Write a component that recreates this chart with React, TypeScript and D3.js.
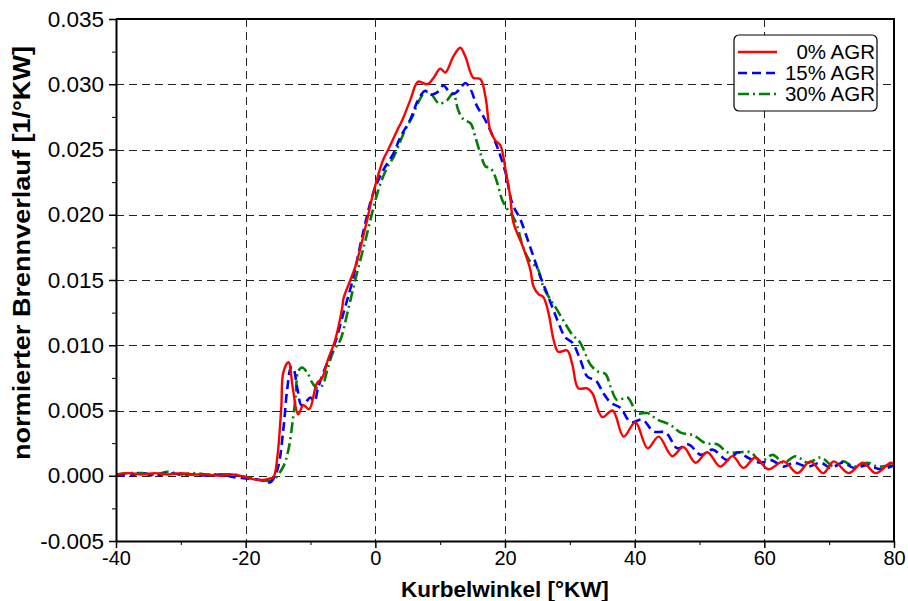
import React, { useEffect, useRef } from "react";
import * as d3 from "d3";

// crank angle [°KW] / normalised heat release [1/°KW]
const agr0: [number, number][] = [
  [-40, 0.0001], [-38, 0.0002], [-36, 0.0001], [-34, 0.0002], [-32, 0.0001], [-30, 0.0002],
  [-28, 0.0001], [-26, 0.0001], [-24, 0.0], [-22, 0.0001], [-20, -0.0001], [-18.5, -0.0003],
  [-17, -0.0003], [-16.2, -0.0002], [-15.7, -0.0001], [-15.1, 0.0015], [-14.5, 0.0053],
  [-14.2, 0.0079], [-13.4, 0.0087], [-12.7, 0.0066], [-11.9, 0.0047], [-11.1, 0.0054],
  [-10.2, 0.0051], [-9.0, 0.0071], [-8.2, 0.0075], [-7.3, 0.0089], [-6.2, 0.0104],
  [-5.1, 0.0129], [-4.9, 0.0136], [-3.1, 0.016], [-1.5, 0.0191], [-0.3, 0.0217],
  [1.2, 0.0242], [2.0, 0.025], [3.4, 0.0265], [4.2, 0.0273], [5.4, 0.0288], [6.6, 0.0302],
  [8.0, 0.03], [9.0, 0.0305], [10.0, 0.0312], [10.8, 0.0309], [12.0, 0.0321], [13.1, 0.0328],
  [13.9, 0.0321], [15.1, 0.0305], [16.2, 0.0304], [17.0, 0.029], [17.7, 0.0265],
  [18.5, 0.0257], [19.3, 0.0253], [20.1, 0.0234], [20.8, 0.0214], [21.3, 0.0194],
  [22.8, 0.0175], [23.9, 0.0158], [24.4, 0.0145], [25.2, 0.0139], [25.9, 0.0137],
  [26.7, 0.0125], [27.5, 0.0104], [28.2, 0.0095], [29.6, 0.0096], [30.4, 0.0085],
  [31.3, 0.0067], [32.7, 0.0067], [33.5, 0.0063], [35.0, 0.0045], [36.6, 0.005],
  [38.3, 0.003], [40.1, 0.0041], [42.0, 0.0021], [43.7, 0.003], [45.8, 0.0015],
  [47.5, 0.0022], [49.4, 0.001], [51.2, 0.0018], [53.2, 0.0007], [55.1, 0.0015],
  [56.8, 0.0006], [58.6, 0.0014], [60.6, 0.0005], [63.0, 0.0011], [65.1, 0.0002],
  [67.1, 0.0011], [69.1, 0.0002], [70.7, 0.0011], [73.0, 0.0002], [75.2, 0.001],
  [77.2, 0.0002], [79.5, 0.001], [80, 0.0008],
];

const agr15: [number, number][] = [
  [-40, 0.0001], [-38, 0.0], [-36, 0.0002], [-34, 0.0], [-32, 0.0002], [-30, 0.0001],
  [-28, 0.0001], [-26, 0.0], [-24, 0.0001], [-22, -0.0001], [-20, -0.0002], [-18, -0.0003],
  [-17, -0.0004], [-16.2, -0.0005], [-15.1, 0.0005], [-14.2, 0.0035], [-13.6, 0.0066],
  [-13.0, 0.0083], [-12.7, 0.0083], [-12.0, 0.0066], [-11.4, 0.0054], [-10.8, 0.0056],
  [-10.0, 0.006], [-9.4, 0.0057], [-8.8, 0.0068], [-7.4, 0.0087], [-6.2, 0.0102],
  [-4.9, 0.0125], [-3.5, 0.015], [-1.9, 0.0186], [-0.3, 0.0217], [1.2, 0.0234],
  [2.8, 0.0247], [3.9, 0.026], [5.4, 0.0273], [6.6, 0.0288], [7.7, 0.0295], [8.5, 0.0292],
  [9.6, 0.0294], [10.5, 0.0299], [11.6, 0.0293], [12.3, 0.0293], [13.1, 0.0297],
  [13.9, 0.0301], [14.7, 0.0296], [15.7, 0.0283], [16.7, 0.0275], [17.7, 0.0265],
  [18.8, 0.0252], [20.1, 0.0232], [21.1, 0.0209], [22.4, 0.0196], [23.9, 0.0175],
  [25.5, 0.0152], [26.7, 0.0137], [28.1, 0.0119], [29.3, 0.0106], [30.4, 0.0102],
  [31.6, 0.0089], [32.7, 0.0076], [34.0, 0.0073], [35.2, 0.0063], [36.3, 0.0056],
  [37.8, 0.0052], [39.4, 0.0041], [41.2, 0.0043], [42.9, 0.0034], [44.8, 0.0033],
  [46.6, 0.0021], [48.3, 0.0024], [50.2, 0.0016], [52.0, 0.002], [54.3, 0.0012],
  [56.0, 0.0018], [57.4, 0.0014], [59.4, 0.001], [61.0, 0.0012], [63.0, 0.0007],
  [64.5, 0.001], [66.7, 0.0007], [68.7, 0.001], [70.2, 0.0006], [72.1, 0.001],
  [73.8, 0.0006], [75.9, 0.0008], [77.9, 0.0005], [80, 0.0008],
];

const agr30: [number, number][] = [
  [-40, 0.0001], [-38, 0.0002], [-36, 0.0002], [-34, 0.0001], [-32, 0.0003], [-30, 0.0001],
  [-28, 0.0002], [-26, 0.0001], [-24, 0.0001], [-22, 0.0001], [-20, -0.0001], [-18, -0.0003],
  [-16.5, -0.0004], [-15.7, -0.0003], [-14.2, 0.0007], [-13.4, 0.002], [-12.8, 0.004],
  [-12.3, 0.006], [-11.9, 0.008], [-11.3, 0.0083], [-10.5, 0.0079], [-9.7, 0.0071],
  [-9.0, 0.0067], [-8.2, 0.0069], [-7.4, 0.0081], [-6.5, 0.0095], [-5.4, 0.0104],
  [-4.3, 0.0125], [-3.1, 0.015], [-1.5, 0.0181], [0.0, 0.0211], [0.8, 0.0224],
  [1.9, 0.0237], [2.8, 0.0244], [3.5, 0.0252], [4.6, 0.0265], [5.7, 0.0275], [6.6, 0.0286],
  [7.7, 0.0294], [8.5, 0.0293], [9.6, 0.0286], [10.0, 0.0285], [11.1, 0.0288],
  [12.0, 0.0293], [12.8, 0.028], [13.6, 0.0273], [14.7, 0.027], [15.4, 0.026],
  [16.2, 0.0247], [17.0, 0.0237], [17.7, 0.0236], [18.5, 0.0229], [19.6, 0.0211],
  [20.4, 0.0204], [21.3, 0.0198], [21.9, 0.0191], [22.8, 0.0175], [23.9, 0.0164],
  [25.0, 0.0159], [25.9, 0.0145], [27.0, 0.0135], [27.8, 0.0129], [29.0, 0.0119],
  [30.4, 0.0108], [31.6, 0.0102], [33.2, 0.0085], [34.3, 0.008], [35.5, 0.0078],
  [36.3, 0.0068], [37.3, 0.0058], [38.9, 0.006], [40.4, 0.0048], [42.0, 0.0048],
  [43.5, 0.0043], [45.5, 0.0039], [47.1, 0.0033], [49.1, 0.0031], [50.9, 0.0025],
  [52.8, 0.0024], [54.3, 0.0018], [56.0, 0.0018], [57.9, 0.0018], [59.4, 0.0011],
  [61.3, 0.0016], [63.0, 0.001], [64.8, 0.0015], [66.7, 0.001], [68.7, 0.0014],
  [70.7, 0.0007], [72.2, 0.0011], [73.8, 0.0007], [75.9, 0.001], [77.6, 0.0007],
  [80, 0.0009],
];

const seriesNames = ["0% AGR", "15% AGR", "30% AGR"];
const xTicks = [-40, -20, 0, 20, 40, 60, 80];
const yTicks = [-0.005, 0, 0.005, 0.01, 0.015, 0.02, 0.025, 0.03, 0.035];

function App() {
  const ref = useRef<SVGSVGElement | null>(null);

  useEffect(() => {
    const width = 908;
    const height = 601;
    const margin = { top: 19, right: 14, bottom: 60, left: 116 };
    const svg = d3.select(ref.current);
    svg.selectAll("*").remove();

    const x = d3.scaleLinear().domain([-40, 80]).range([margin.left, width - margin.right]);
    const y = d3.scaleLinear().domain([-0.005, 0.035]).range([height - margin.bottom, margin.top]);

    svg.append("rect").attr("width", width).attr("height", height).attr("fill", "white");

    // grid lines
    const grid = svg.append("g").attr("stroke", "#222").attr("stroke-width", 1).attr("stroke-dasharray", "8,5");
    grid.selectAll("line.v")
      .data(xTicks.slice(1, -1))
      .join("line")
      .attr("class", "v")
      .attr("x1", (d) => Math.round(x(d)) + 0.5)
      .attr("x2", (d) => Math.round(x(d)) + 0.5)
      .attr("y1", y(0.035))
      .attr("y2", y(-0.005));
    grid.selectAll("line.h")
      .data(yTicks.slice(1, -1))
      .join("line")
      .attr("class", "h")
      .attr("x1", x(-40))
      .attr("x2", x(80))
      .attr("y1", (d) => Math.round(y(d)) + 0.5)
      .attr("y2", (d) => Math.round(y(d)) + 0.5);

    // curves
    const line = d3.line<[number, number]>()
      .x((d) => x(d[0]))
      .y((d) => y(d[1]))
      .curve(d3.curveCatmullRom.alpha(0.5));

    const styles = [
      { data: agr0, color: "#ff0000", dash: null, w: 2.4 },
      { data: agr15, color: "#0000ff", dash: "9,5", w: 2.6 },
      { data: agr30, color: "#008000", dash: "11,4,2,4", w: 2.6 },
    ];

    svg.append("defs").append("clipPath").attr("id", "plotclip")
      .append("rect")
      .attr("x", x(-40)).attr("y", y(0.035))
      .attr("width", x(80) - x(-40)).attr("height", y(-0.005) - y(0.035));

    const lines = svg.append("g").attr("clip-path", "url(#plotclip)");
    [...styles].reverse().forEach((s) => {
      lines.append("path")
        .datum(s.data)
        .attr("fill", "none")
        .attr("stroke", s.color)
        .attr("stroke-width", s.w)
        .attr("stroke-dasharray", s.dash)
        .attr("d", line);
    });

    // axes
    const fontFamily = "Arial, 'Liberation Sans', sans-serif";
    const xAxis = svg.append("g")
      .attr("transform", `translate(0,${y(-0.005)})`)
      .call(d3.axisBottom(x).tickValues(xTicks).tickSize(7).tickSizeOuter(0).tickPadding(3).tickFormat((d) => String(d)));
    svg.append("g")
      .attr("transform", `translate(0,${y(-0.005)})`)
      .call(d3.axisBottom(x).tickValues(d3.range(-30, 80, 20)).tickSize(4).tickSizeOuter(0).tickFormat(() => ""))
      .select(".domain").remove();

    const yAxis = svg.append("g")
      .attr("transform", `translate(${x(-40)},0)`)
      .call(d3.axisLeft(y).tickValues(yTicks).tickSize(7).tickSizeOuter(0).tickPadding(5).tickFormat((d) => (+d).toFixed(3)));
    svg.append("g")
      .attr("transform", `translate(${x(-40)},0)`)
      .call(d3.axisLeft(y).tickValues(d3.range(-0.0025, 0.035, 0.005)).tickSize(4).tickSizeOuter(0).tickFormat(() => ""))
      .select(".domain").remove();

    xAxis.selectAll("text").attr("font-size", 20);
    yAxis.selectAll("text").attr("font-size", 22.5);
    [xAxis, yAxis].forEach((a) => {
      a.selectAll("text").attr("font-family", fontFamily).attr("fill", "#000");
      a.selectAll("line").attr("stroke-width", 1.5);
      a.select(".domain").attr("stroke-width", 2);
    });

    // frame top and right
    svg.append("path")
      .attr("d", `M${x(-40)},${y(0.035)}H${x(80)}V${y(-0.005)}`)
      .attr("fill", "none")
      .attr("stroke", "#000")
      .attr("stroke-width", 2);

    // axis titles
    svg.append("text")
      .attr("x", (x(-40) + x(80)) / 2)
      .attr("y", 597)
      .attr("text-anchor", "middle")
      .attr("font-family", fontFamily)
      .attr("font-weight", "bold")
      .attr("font-size", 22.5)
      .text("Kurbelwinkel [°KW]");
    svg.append("text")
      .attr("transform", `translate(30,253) rotate(-90)`)
      .attr("text-anchor", "middle")
      .attr("font-family", fontFamily)
      .attr("font-weight", "bold")
      .attr("font-size", 23)
      .attr("textLength", 414)
      .attr("lengthAdjust", "spacingAndGlyphs")
      .text("normierter Brennverlauf [1/°KW]");

    // legend
    const lg = svg.append("g");
    lg.append("rect")
      .attr("x", 734).attr("y", 35).attr("width", 143).attr("height", 76).attr("rx", 5)
      .attr("fill", "white").attr("stroke", "#000").attr("stroke-width", 1.2);
    styles.forEach((s, i) => {
      const ly = 52 + i * 21;
      lg.append("line")
        .attr("x1", 738).attr("x2", 777).attr("y1", ly).attr("y2", ly)
        .attr("stroke", s.color).attr("stroke-width", s.w).attr("stroke-dasharray", s.dash);
      lg.append("text")
        .attr("x", 875).attr("y", ly + 7)
        .attr("text-anchor", "end")
        .attr("font-family", fontFamily)
        .attr("font-size", 20.5)
        .text(seriesNames[i]);
    });
  }, []);

  return (
    <svg
      ref={ref}
      width={908}
      height={601}
      style={{ position: "absolute", left: 0, top: 0, display: "block" }}
    />
  );
}

export default App;
